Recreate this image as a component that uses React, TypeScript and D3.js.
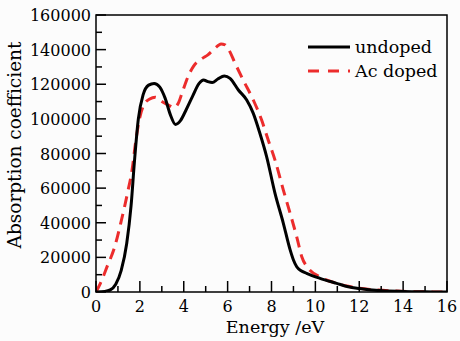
import React from "react";
import * as d3 from "d3";

const undopedE = [0, 0.4, 0.65, 0.9, 1.15, 1.4, 1.6, 1.75, 1.93, 2.15, 2.4, 2.65, 2.9, 3.15, 3.4, 3.62, 3.85, 4.1, 4.4, 4.7, 4.9, 5.1, 5.3, 5.55, 5.85, 6.11, 6.49, 6.87, 7.17, 7.47, 7.78, 8.16, 8.54, 8.85, 9.0, 9.15, 9.35, 9.6, 10.21, 10.97, 11.5, 12.0, 12.9, 14, 15, 16];
const undopedV = [0, 300, 1200, 4500, 12500, 28000, 50000, 75000, 100000, 114000, 119500, 120500, 118500, 112000, 102000, 96800, 99000, 105000, 113000, 120500, 122500, 121500, 121000, 123000, 124800, 123400, 116700, 110900, 103200, 91700, 78100, 57000, 39700, 24300, 18500, 14600, 12300, 10800, 7900, 5000, 3000, 2000, 800, 300, 100, 0];

const dopedE = [0, 0.2, 0.5, 0.85, 1.15, 1.45, 1.65, 1.8, 2.0, 2.2, 2.45, 2.7, 3.0, 3.3, 3.55, 3.75, 3.95, 4.2, 4.45, 4.8, 5.1, 5.4, 5.7, 5.88, 6.05, 6.34, 6.71, 7.17, 7.55, 7.85, 8.16, 8.54, 8.85, 9.15, 9.38, 9.68, 10.21, 10.97, 11.5, 12.5, 13.5, 14.5, 16];
const dopedV = [0, 5000, 14500, 26000, 41000, 58000, 71000, 86000, 101000, 108500, 111500, 112500, 110000, 108000, 106500, 109000, 116000, 124500, 130500, 134500, 137000, 140500, 143300, 142800, 140000, 132100, 122400, 110900, 99300, 87800, 76200, 58900, 45400, 31900, 20400, 13700, 8800, 5000, 3300, 1500, 600, 200, 0];

const xMajorTicks = [0, 2, 4, 6, 8, 10, 12, 14, 16];
const xMinorTicks = [1, 3, 5, 7, 9, 11, 13, 15];
const yMajorTicks = [0, 20000, 40000, 60000, 80000, 100000, 120000, 140000, 160000];
const yMinorTicks = [10000, 30000, 50000, 70000, 90000, 110000, 130000, 150000];

const seriesNames = ["undoped", "Ac doped"];
const xTitle = "Energy /eV";
const yTitle = "Absorption coefficient";

const W = 460, H = 341;
const L = 96, R = 447, T = 15, B = 292;
const FONT = "'DejaVu Serif', serif";
const RED = "#ec2c2c";

export default function App() {
  const x = d3.scaleLinear().domain([0, 16]).range([L, R]);
  const y = d3.scaleLinear().domain([0, 160000]).range([B, T]);
  const line = d3.line<[number, number]>()
    .x(d => x(d[0]))
    .y(d => y(d[1]))
    .curve(d3.curveMonotoneX);
  const und = line(undopedE.map((e, i) => [e, undopedV[i]]) as [number, number][]) || "";
  const dop = line(dopedE.map((e, i) => [e, dopedV[i]]) as [number, number][]) || "";

  return (
    <svg width={W} height={H} style={{ position: "absolute", left: 0, top: 0 }} fontFamily={FONT}>
      <rect x={0} y={0} width={W} height={H} fill="#fcfcfc" />
      <defs>
        <clipPath id="plotclip">
          <rect x={L} y={T - 5} width={R - L} height={B - T + 5} />
        </clipPath>
      </defs>
      <g clipPath="url(#plotclip)">
        <path d={dop} fill="none" stroke={RED} strokeWidth={3} strokeDasharray="11,7" />
        <path d={und} fill="none" stroke="#000" strokeWidth={3} />
      </g>
      <rect x={L} y={T} width={R - L} height={B - T} fill="none" stroke="#000" strokeWidth={1.5} />
      {xMajorTicks.map(t => (
        <g key={"xM" + t}>
          <line x1={x(t)} x2={x(t)} y1={B} y2={B - 11} stroke="#000" strokeWidth={1.5} />
          <text x={x(t)} y={B + 20} fontSize={16} textAnchor="middle">{t}</text>
        </g>
      ))}
      {xMinorTicks.map(t => (
        <line key={"xm" + t} x1={x(t)} x2={x(t)} y1={B} y2={B - 6} stroke="#000" strokeWidth={1.5} />
      ))}
      {yMajorTicks.map(t => (
        <g key={"yM" + t}>
          <line x1={L} x2={L + 10} y1={y(t)} y2={y(t)} stroke="#000" strokeWidth={1.5} />
          <text x={L - 5} y={y(t) + 6} fontSize={16} textAnchor="end">{t}</text>
        </g>
      ))}
      {yMinorTicks.map(t => (
        <line key={"ym" + t} x1={L} x2={L + 6} y1={y(t)} y2={y(t)} stroke="#000" strokeWidth={1.5} />
      ))}
      <text x={275} y={333} fontSize={17.5} textAnchor="middle">{xTitle}</text>
      <text transform="translate(21,145) rotate(-90)" fontSize={18.5} textAnchor="middle">{yTitle}</text>
      <line x1={308} x2={350} y1={47} y2={47} stroke="#000" strokeWidth={3} />
      <text x={355} y={53} fontSize={17.5}>{seriesNames[0]}</text>
      <line x1={308} x2={350} y1={71} y2={71} stroke={RED} strokeWidth={3} strokeDasharray="11,9" />
      <text x={355} y={77} fontSize={17.5}>{seriesNames[1]}</text>
    </svg>
  );
}
